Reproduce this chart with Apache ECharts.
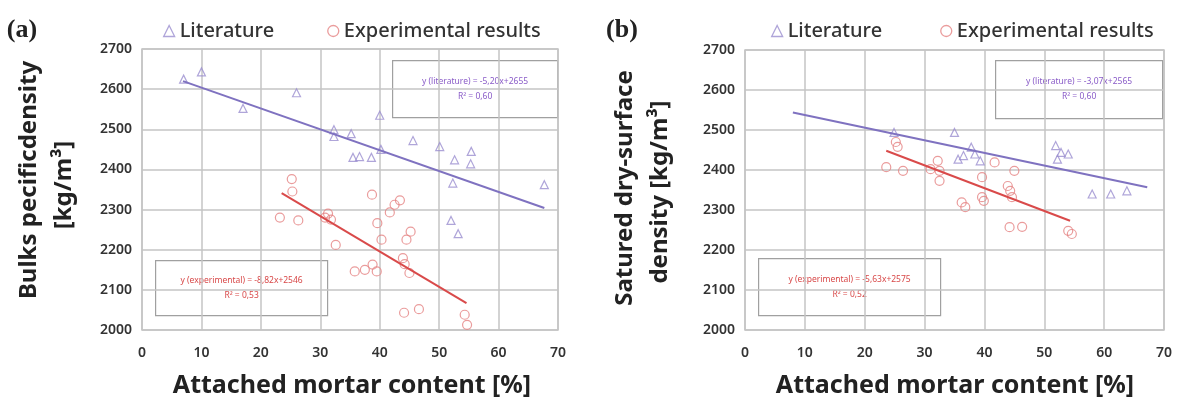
<!DOCTYPE html>
<html>
<head>
<meta charset="utf-8">
<script src="https://cdn.jsdelivr.net/npm/echarts@6/dist/echarts.min.js"></script>
<style>
html,body{margin:0;padding:0;background:#fff;}
#c{width:1177px;height:403px;}
</style>
</head>
<body>
<div id="c"></div>
<script>
// ---------- data ----------
var xTicks = [0, 10, 20, 30, 40, 50, 60, 70];
var yTicks = [2000, 2100, 2200, 2300, 2400, 2500, 2600, 2700];

// Panel (a): bulk specific density
var litA = [[7,2625],[10,2643],[17,2552],[26,2591],[32.3,2499],[32.3,2482],[35.2,2489],
  [35.5,2430],[36.6,2432],[38.6,2430],[40,2535],[40.2,2450],[45.6,2472],[50.1,2457],
  [52.6,2424],[55.4,2445],[55.3,2414],[52.3,2366],[67.7,2362],[52,2273],[53.2,2240]];
var expA = [[25.2,2376],[25.3,2345],[23.2,2280],[26.3,2273],[30.8,2280],[31.3,2290],[31.8,2275],
  [32.6,2212],[38.7,2337],[43.4,2323],[42.5,2312],[41.7,2293],[39.6,2266],[40.3,2225],
  [45.2,2245],[44.5,2225],[35.8,2146],[37.5,2150],[38.8,2163],[39.5,2146],[43.9,2179],
  [44.2,2164],[45,2142],[44.1,2043],[46.6,2052],[54.3,2038],[54.7,2013]];
var trendLitA = [[6.9,2620],[67.7,2304]];
var trendExpA = [[23.5,2341],[54.6,2067]];

// Panel (b): saturated dry-surface density
var litB = [[24.9,2494],[35,2494],[37.8,2457],[35.6,2427],[36.5,2436],[38.4,2440],[39.3,2423],
  [51.9,2461],[52.8,2444],[52.2,2427],[54,2440],[58,2340],[61.1,2340],[63.8,2348]];
var expB = [[23.6,2407],[26.4,2398],[25.2,2470],[25.5,2458],[31,2402],[32.2,2423],[32.5,2398],
  [32.5,2373],[36.2,2319],[36.8,2307],[39.6,2332],[39.9,2323],[39.6,2382],[41.7,2419],
  [45,2398],[43.9,2360],[44.3,2348],[44.6,2332],[44.2,2257],[46.3,2258],[54,2248],[54.6,2240]];
var trendLitB = [[8,2544],[67.2,2357]];
var trendExpB = [[23.6,2448],[54.3,2273]];

var eqLitA = ['y (literature) = -5,20x+2655', 'R² = 0,60'];
var eqExpA = ['y (experimental) = -8,82x+2546', 'R² = 0,53'];
var eqLitB = ['y (literature) = -3,07x+2565', 'R² = 0,60'];
var eqExpB = ['y (experimental) = -5,63x+2575', 'R² = 0,52'];

// ---------- styles ----------
var PURPLE = '#9b8fd0', PURPLE_LINE = '#7f72c0';
var RED = '#e58383', RED_LINE = '#d94a4a';
var GRIDC = '#c4c4c4';
var FONT = 'Noto Sans';

function xAxis(gi){
  return {gridIndex:gi, type:'value', min:xTicks[0], max:xTicks[xTicks.length-1], interval:xTicks[1]-xTicks[0],
    axisLine:{show:false}, axisTick:{show:false},
    splitLine:{show:true, lineStyle:{color:GRIDC, width:1.5}},
    axisLabel:{color:'#333', fontFamily:FONT, fontSize:14, fontWeight:600, margin:16,
      formatter:function(v){return String(v);}}};
}
function yAxis(gi){
  return {gridIndex:gi, type:'value', min:yTicks[0], max:yTicks[yTicks.length-1], interval:yTicks[1]-yTicks[0],
    axisLine:{show:false}, axisTick:{show:false},
    splitLine:{show:true, lineStyle:{color:GRIDC, width:1.5}},
    axisLabel:{color:'#333', fontFamily:FONT, fontSize:14, fontWeight:600, margin:10,
      formatter:function(v){return String(v);}}};
}
function scat(name, data, gi, sym, col){
  return {name:name, type:'scatter', xAxisIndex:gi, yAxisIndex:gi, data:data,
    symbol:sym, symbolSize: sym==='triangle'?8:9,
    itemStyle:{color:'rgba(255,255,255,0)', borderColor:col, borderWidth:1.2}, z:3};
}
function trend(data, gi, col){
  return {type:'line', xAxisIndex:gi, yAxisIndex:gi, data:data, showSymbol:false, symbol:'none',
    lineStyle:{color:col, width:2}, z:4, silent:true};
}
function eqBox(x, y, w, h, lines, col){
  return {type:'group', left:x, top:y, z:10, children:[
    {type:'rect', shape:{x:0, y:0, width:w, height:h},
      style:{fill:'#fff', stroke:'#a0a0a0', lineWidth:1.2}},
    {type:'text', x:w/2, y:h/2-8, style:{text:lines[0], fill:col, fontSize:8.5, fontFamily:FONT,
      align:'center', verticalAlign:'middle'}},
    {type:'text', x:w/2, y:h/2+7, style:{text:lines[1], fill:col, fontSize:8.5, fontFamily:FONT,
      align:'center', verticalAlign:'middle'}}
  ]};
}
function vtext(x, y, t, size){
  return {type:'text', x:x, y:y, rotation:Math.PI/2, z:10,
    style:{text:t, fill:'#222', fontSize:size, fontWeight:'bold', fontFamily:FONT,
      align:'center', verticalAlign:'middle'}};
}
function htext(x, y, t, size, fam, weight){
  return {type:'text', x:x, y:y, z:10,
    style:{text:t, fill:'#222', fontSize:size, fontWeight:weight||'bold', fontFamily:fam||FONT,
      align:'center', verticalAlign:'middle'}};
}

var legendData = [
  {name:'Literature', icon:'triangle', itemStyle:{color:'rgba(255,255,255,0)', borderColor:PURPLE, borderWidth:1.3}},
  {name:'Experimental results', icon:'circle', itemStyle:{color:'rgba(255,255,255,0)', borderColor:RED, borderWidth:1.3}}
];
function legend(left, gap){
  return {left:left, top:16, itemWidth:11, itemHeight:11, itemGap:gap, data:legendData,
    textStyle:{color:'#333', fontSize:20, fontFamily:FONT, fontWeight:500}, selectedMode:false};
}

var chart = echarts.init(document.getElementById('c'), null, {renderer:'canvas'});
chart.setOption({
  backgroundColor:'#fff',
  animation:false,
  legend:[legend(158, 53), legend(766, 58)],
  grid:[
    {left:142, top:49, width:416, height:281, show:true, borderColor:GRIDC, borderWidth:1.5},
    {left:745, top:50, width:419, height:280, show:true, borderColor:GRIDC, borderWidth:1.5}
  ],
  xAxis:[xAxis(0), xAxis(1)],
  yAxis:[yAxis(0), yAxis(1)],
  series:[
    scat('Literature', litA, 0, 'triangle', PURPLE),
    scat('Experimental results', expA, 0, 'circle', RED),
    trend(trendLitA, 0, PURPLE_LINE),
    trend(trendExpA, 0, RED_LINE),
    scat('Literature', litB, 1, 'triangle', PURPLE),
    scat('Experimental results', expB, 1, 'circle', RED),
    trend(trendLitB, 1, PURPLE_LINE),
    trend(trendExpB, 1, RED_LINE)
  ],
  graphic:[
    eqBox(392, 60, 165, 57, eqLitA, '#8a5cc8'),
    eqBox(155, 260, 172, 55, eqExpA, '#d84848'),
    eqBox(995, 60, 167, 58, eqLitB, '#8a5cc8'),
    eqBox(758, 258, 182, 57, eqExpB, '#d84848'),
    htext(22, 30, '(a)', 26, 'Liberation Serif', 'bold'),
    htext(622, 30, '(b)', 26, 'Liberation Serif', 'bold'),
    vtext(29, 180, 'Bulks pecificdensity', 24),
    vtext(64, 185, '[kg/m³]', 24),
    vtext(625, 188, 'Satured dry-surface', 24),
    vtext(660, 192, 'density [kg/m³]', 24),
    htext(352, 386, 'Attached mortar content [%]', 25),
    htext(955, 386, 'Attached mortar content [%]', 25)
  ]
});
</script>
</body>
</html>
